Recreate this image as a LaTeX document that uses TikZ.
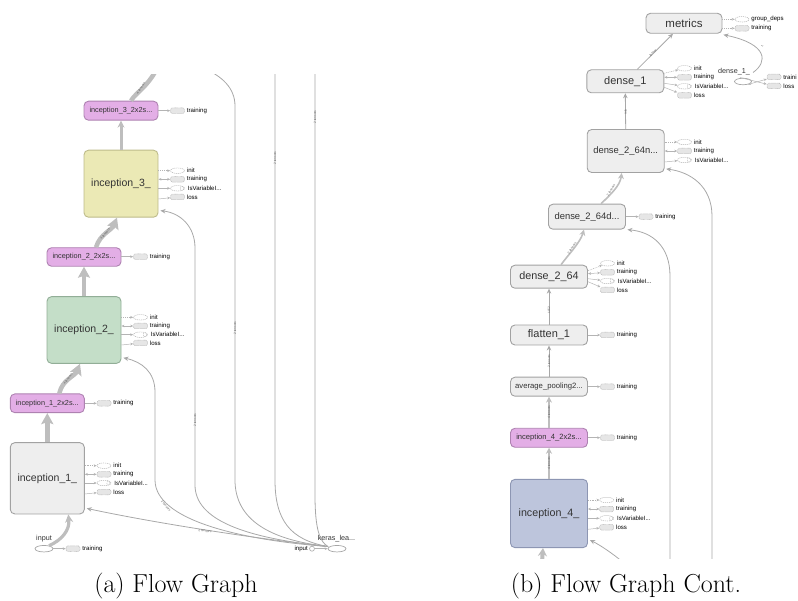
\documentclass[tikz,border=0pt]{standalone}
\usepackage{fontspec}
\newfontfamily\tbf{Liberation Sans}
\usetikzlibrary{arrows.meta,shapes.geometric}

\definecolor{boxfill}{HTML}{EEEEEE}
\definecolor{boxline}{HTML}{A2A2A2}
\definecolor{pinkfill}{HTML}{E3AEE6}
\definecolor{pinkline}{HTML}{AE82B1}
\definecolor{yelfill}{HTML}{EBE9B5}
\definecolor{yelline}{HTML}{BDBB8A}
\definecolor{grnfill}{HTML}{C4DEC8}
\definecolor{grnline}{HTML}{92AE97}
\definecolor{blufill}{HTML}{BDC5DC}
\definecolor{bluline}{HTML}{8D96B3}
\definecolor{txtgray}{HTML}{333333}
\definecolor{edgegray}{HTML}{A8A8A8}
\definecolor{thickgray}{HTML}{BEBEBE}
\definecolor{portline}{HTML}{B4B4B4}
\definecolor{portfill}{HTML}{E6E6E6}

\newcommand\tbbig{\tbf\fontsize{10.5}{12}\selectfont}
\newcommand\tbmid{\tbf\fontsize{9.4}{11}\selectfont}
\newcommand\tbsmall{\tbf\fontsize{7.3}{9}\selectfont}
\newcommand\tbport{\tbf\fontsize{6.1}{7}\selectfont}
\newcommand\tbtiny{\tbf\fontsize{3.2}{4}\selectfont}

% a port shape with its name printed to the right
\newcommand\portnode[5]{%
  \node[#2] (#1) at (#3,#4) {};
  \node[portlabel] (#1-l) at ([xshift=2pt]#1.east) {#5};}

\tikzset{
  opbox/.style={draw=boxline, fill=boxfill, rounded corners=4.5pt, line width=0.9pt,
    text=txtgray, inner sep=0pt, align=center},
  pinkbox/.style={opbox, fill=pinkfill, draw=pinkline},
  yelbox/.style={opbox, fill=yelfill, draw=yelline},
  grnbox/.style={opbox, fill=grnfill, draw=grnline},
  blubox/.style={opbox, fill=blufill, draw=bluline},
  pinit/.style={ellipse, draw=portline, dash pattern=on 1.2pt off 0.8pt,
    minimum width=14pt, minimum height=5.5pt, inner sep=0pt, line width=0.5pt},
  ptrain/.style={rectangle, rounded corners=1.5pt, draw=portline, dash pattern=on 0.6pt off 0.6pt,
    fill=portfill, minimum width=14pt, minimum height=5.5pt, inner sep=0pt, line width=0.5pt},
  pvar/.style={pinit, path picture={\draw[portline, line width=0.4pt]
      ([xshift=-2.6pt]path picture bounding box.east) ellipse (1.6pt and 2.2pt);}},
  portlabel/.style={font=\tbport, text=black, inner sep=0pt, anchor=west},
  parrow/.style={draw=portline, line width=0.5pt, -{Stealth[length=3pt,width=2.6pt]}},
  pdash/.style={parrow, dash pattern=on 1pt off 0.8pt},
  pboth/.style={draw=portline, line width=0.5pt,
    {Stealth[length=3pt,width=2.6pt]}-{Stealth[length=3pt,width=2.6pt]}},
  thinedge/.style={draw=edgegray, line width=0.8pt, -{Stealth[length=5pt,width=4.5pt]}},
  bareline/.style={draw=edgegray, line width=0.8pt},
  midedge/.style={draw=thickgray, line width=1.6pt, -{Stealth[length=6pt,width=6pt]}},
  fatedge/.style={draw=thickgray, line width=4.5pt, -{Stealth[length=11pt,width=12pt,inset=2pt]}},
  elabel/.style={font=\tbtiny, text=black!60, inner sep=0.5pt},
  nodeword/.style={font=\tbf\fontsize{7.2}{8}\selectfont, text=txtgray, inner sep=0pt},
  caption/.style={font=\fontsize{26}{30}\selectfont, anchor=base, inner sep=0pt}
}

\begin{document}
\begin{tikzpicture}[x=1pt,y=-1pt]
\useasboundingbox (0,0) rectangle (798,601);

%% ---------------- left graph ----------------
\begin{scope}
\clip (0,75) rectangle (400,601);

% operation boxes
\node[pinkbox, minimum width=74pt, minimum height=19pt, font=\tbsmall] (p3) at (121,110.7) {inception\_3\_2x2s...};
\node[yelbox, minimum width=74pt, minimum height=67pt, font=\tbbig] (inc3) at (121,183.7) {inception\_3\_};
\node[pinkbox, minimum width=74pt, minimum height=18.5pt, font=\tbsmall] (p2) at (84,257) {inception\_2\_2x2s...};
\node[grnbox, minimum width=74pt, minimum height=66.7pt, font=\tbbig] (inc2) at (84,330) {inception\_2\_};
\node[pinkbox, minimum width=74pt, minimum height=18.7pt, font=\tbsmall] (p1) at (47.3,403.3) {inception\_1\_2x2s...};
\node[opbox, minimum width=74pt, minimum height=71.3pt, font=\tbbig] (inc1) at (47.3,478.3) {inception\_1\_};

% input and keras_learning_phase
\node[ellipse, draw=gray!70, line width=0.7pt, minimum width=18pt, minimum height=6.5pt, inner sep=0pt] (inp) at (44,548.7) {};
\node[nodeword] (inp-l) at (44,539) {input};
\node[ellipse, draw=gray!70, line width=0.7pt, minimum width=18pt, minimum height=6.5pt, inner sep=0pt] (kl) at (337,548.7) {};
\node[nodeword] (kl-l) at (336.5,539) {keras\_lea...};
\node[circle, draw=gray!70, line width=0.6pt, minimum size=5pt, inner sep=0pt] (kin0) at (312,548.7) {};
\node[font=\tbport, text=black, inner sep=0pt, anchor=east] (kin0-l) at (308,548.7) {input};
\draw[parrow] (kin0) -- (kl);
\coordinate (kin) at (328,546.5);

% ports
\portnode{p3t}{ptrain}{177.5}{110.7}{training}
\draw[parrow] (p3.east |- p3t) -- (p3t);

\portnode{i3a}{pinit}{177.5}{170.7}{init}
\portnode{i3b}{ptrain}{177.5}{179.3}{training}
\portnode{i3c}{pvar}{177.5}{188.3}{\,IsVariableI...}
\portnode{i3d}{ptrain}{177.5}{197}{loss}
\draw[pdash] (inc3.east |- i3a) -- (i3a);
\draw[pboth] (inc3.east |- i3b) -- (i3b);
\draw[parrow] (inc3.east |- i3c) -- (i3c);
\draw[parrow] ([yshift=-2pt]inc3.east |- i3d) -- (i3d);

\portnode{p2t}{ptrain}{140.5}{256.7}{training}
\draw[parrow] (p2.east |- p2t) -- (p2t);

\portnode{i2a}{pinit}{140.5}{317.3}{init}
\portnode{i2b}{ptrain}{140.5}{326}{training}
\portnode{i2c}{pvar}{140.5}{334.7}{\,IsVariableI...}
\portnode{i2d}{ptrain}{140.5}{343}{loss}
\draw[pdash] (inc2.east |- i2a) -- (i2a);
\draw[pboth] (inc2.east |- i2b) -- (i2b);
\draw[parrow] (inc2.east |- i2c) -- (i2c);
\draw[parrow] ([yshift=-2pt]inc2.east |- i2d) -- (i2d);

\portnode{p1t}{ptrain}{104}{403.3}{training}
\draw[parrow] (p1.east |- p1t) -- (p1t);

\portnode{i1a}{pinit}{104}{465.7}{init}
\portnode{i1b}{ptrain}{104}{474.3}{training}
\portnode{i1c}{pvar}{104}{483}{\,IsVariableI...}
\portnode{i1d}{ptrain}{104}{492}{loss}
\draw[pdash] (inc1.east |- i1a) -- (i1a);
\draw[pboth] (inc1.east |- i1b) -- (i1b);
\draw[parrow] (inc1.east |- i1c) -- (i1c);
\draw[parrow] ([yshift=-2pt]inc1.east |- i1d) -- (i1d);

\portnode{inpt}{ptrain}{73}{548.7}{training}
\draw[parrow] (inp) -- (inpt);

% main data flow
\draw[draw=thickgray, line width=3.2pt, -{Stealth[length=8pt,width=8pt]}]
  ([shift={(5,-3)}]inp.center) .. controls (62,540) and (70,530) .. ([shift={(21,0)}]inc1.south);
\draw[fatedge] (inc1.north) -- (p1.south);
\draw[fatedge] ([shift={(12,0)}]p1.north) .. controls (62,380) and (75,376) .. ([shift={(-4,0)}]inc2.south);
\node[elabel, rotate=52] (l1) at (68,379) {4 tensors};
\draw[fatedge] (inc2.north) -- (p2.south);
\draw[fatedge] ([shift={(12,0)}]p2.north) .. controls (100,234) and (112,230) .. ([shift={(-4,0)}]inc3.south);
\node[elabel, rotate=50] (l2) at (105,234) {4 tensors};
\draw[draw=thickgray, line width=3pt, -{Stealth[length=7pt,width=7pt]}] (inc3.north) -- (p3.south);
\coordinate (upA) at (160,62);
\draw[draw=thickgray, line width=4.5pt] ([shift={(10,0)}]p3.north) .. controls (136,92) and (150,86) .. (upA);
\node[elabel, rotate=55] (l3) at (141,88) {4 tensors};

% keras_learning_phase fan-out
\draw[thinedge] (kin) .. controls (250,538) and (150,522) .. ([shift={(2,-6)}]inc1.south east);
\node[elabel, rotate=-8] (l4) at (205,531) {2 tensors};
\draw[thinedge] (kin) .. controls (240,540) and (155,520) .. (155,480) -- (155,392)
  .. controls (155,372) and (142,362) .. ([shift={(2,-6)}]inc2.south east);
\node[elabel, rotate=-50] (l5) at (166,506) {2 tensors};
\draw[thinedge] (kin) .. controls (245,538) and (195,520) .. (195,485) -- (195,248)
  .. controls (195,226) and (180,213) .. ([shift={(2,-7)}]inc3.south east);
\node[elabel, rotate=90] (l6) at (195,420) {2 tensors};
\coordinate (upB) at (203,68);
\draw[bareline] (kin) .. controls (270,540) and (235,520) .. (235,480) -- (235,106)
  .. controls (235,88) and (222,76) .. (upB);
\node[elabel, rotate=90] (l7) at (235,328) {2 tensors};
\coordinate (upC) at (275,60);
\draw[bareline] (kin) .. controls (290,540) and (275,520) .. (275,480) -- (upC);
\node[elabel, rotate=90] (l8) at (275,158) {2 tensors};
\coordinate (upD) at (315,60);
\draw[bareline] (kin) .. controls (320,542) and (315,530) .. (315,495) -- (upD);
\node[elabel, rotate=90] (l9) at (315,117) {2 tensors};
\end{scope}

%% ---------------- right graph ----------------
\begin{scope}
\clip (480,0) rectangle (798,558);

\node[opbox, minimum width=76pt, minimum height=20pt, font=\tbf\fontsize{11.5}{13}\selectfont] (met) at (684,23.3) {metrics};
\node[opbox, minimum width=77pt, minimum height=23pt, font=\tbf\fontsize{11}{13}\selectfont] (d1) at (625.3,81.3) {dense\_1};
\node[opbox, minimum width=77pt, minimum height=43pt, font=\tbmid] (d2n) at (625.7,151) {dense\_2\_64n...};
\node[opbox, minimum width=77pt, minimum height=25pt, font=\tbmid] (d2d) at (587,216.7) {dense\_2\_64d...};
\node[opbox, minimum width=77pt, minimum height=23pt, font=\tbf\fontsize{10.8}{13}\selectfont] (d264) at (549,276.7) {dense\_2\_64};
\node[opbox, minimum width=77pt, minimum height=20pt, font=\tbf\fontsize{11}{13}\selectfont] (fl) at (549,335) {flatten\_1};
\node[opbox, minimum width=77pt, minimum height=19pt, font=\tbf\fontsize{7.7}{9}\selectfont] (avg) at (549,386.7) {average\_pooling2...};
\node[pinkbox, minimum width=77pt, minimum height=19pt, font=\tbf\fontsize{7.6}{9}\selectfont] (p4) at (549,437.8) {inception\_4\_2x2s...};
\node[blubox, minimum width=77pt, minimum height=68.3pt, font=\tbf\fontsize{10.7}{12}\selectfont] (inc4) at (549,513.5) {inception\_4\_};

% dense_1 bias-style side node
\node[ellipse, draw=gray!70, line width=0.7pt, minimum width=17pt, minimum height=6.5pt, inner sep=0pt] (d1u) at (743,81.5) {};
\node[nodeword, anchor=east] (d1u-l) at (750,72) {dense\_1\_};

% ports of metrics
\portnode{mga}{pinit}{742}{19.3}{group\_deps}
\portnode{mgb}{ptrain}{742}{28.3}{training}
\draw[pdash] (met.east |- mga) -- (mga);
\draw[pdash] (met.east |- mgb) -- (mgb);

% ports of dense_1
\portnode{d1a}{pinit}{684.5}{68.3}{init}
\portnode{d1b}{ptrain}{684.5}{77.3}{training}
\portnode{d1c}{pvar}{684.5}{86.3}{\,IsVariableI...}
\portnode{d1d}{ptrain}{684.5}{95.3}{loss}
\draw[pdash] ([shift={(0,-8)}]d1.east) -- (d1a);
\draw[pboth] ([shift={(0,-4)}]d1.east) -- (d1b);
\draw[parrow] ([shift={(0,2)}]d1.east) -- (d1c);
\draw[parrow] ([shift={(0,6)}]d1.east) -- (d1d);

% ports of dense_1_ (the page edge leaves only the start of the first name)
\portnode{dua}{ptrain}{774}{77}{traini}
\portnode{dub}{ptrain}{774}{86}{loss}
\draw[pboth] ([shift={(5,3)}]d1u.center) -- (dua);
\draw[parrow] ([shift={(-3,-4)}]d1u.center) -- (dub);

% ports of dense_2_64n
\portnode{dna}{pinit}{684.5}{142}{init}
\portnode{dnb}{ptrain}{684.5}{151}{training}
\portnode{dnc}{pvar}{684.5}{160}{\,IsVariableI...}
\draw[pdash] (d2n.east |- dna) -- (dna);
\draw[pboth] (d2n.east |- dnb) -- (dnb);
\draw[parrow] ([shift={(0,2)}]d2n.east |- dnc) -- (dnc);

% ports of dense_2_64d
\portnode{dda}{ptrain}{646}{216.7}{training}
\draw[parrow] (d2d.east |- dda) -- (dda);

% ports of dense_2_64
\portnode{dsa}{pinit}{607.5}{263.3}{init}
\portnode{dsb}{ptrain}{607.5}{272.3}{training}
\portnode{dsc}{pvar}{607.5}{281}{\,IsVariableI...}
\portnode{dsd}{ptrain}{607.5}{290}{loss}
\draw[pdash] ([shift={(0,-6)}]d264.east) -- (dsa);
\draw[pboth] ([shift={(0,-3)}]d264.east) -- (dsb);
\draw[parrow] ([shift={(0,2)}]d264.east) -- (dsc);
\draw[parrow] ([shift={(0,5)}]d264.east) -- (dsd);

\portnode{fla}{ptrain}{607.5}{335}{training}
\draw[parrow] (fl.east |- fla) -- (fla);
\portnode{ava}{ptrain}{607.5}{386.7}{training}
\draw[parrow] (avg.east |- ava) -- (ava);
\portnode{p4a}{ptrain}{607.5}{437.7}{training}
\draw[parrow] (p4.east |- p4a) -- (p4a);

% ports of inception_4_
\portnode{i4a}{pinit}{606.7}{500}{init}
\portnode{i4b}{ptrain}{606.7}{509}{training}
\portnode{i4c}{pvar}{606.7}{518.3}{\,IsVariableI...}
\portnode{i4d}{ptrain}{606.7}{527.3}{loss}
\draw[pdash] (inc4.east |- i4a) -- (i4a);
\draw[pboth] (inc4.east |- i4b) -- (i4b);
\draw[parrow] (inc4.east |- i4c) -- (i4c);
\draw[parrow] ([yshift=-2pt]inc4.east |- i4d) -- (i4d);

% data flow
\draw[thinedge] ([shift={(12,0)}]d1.north) -- ([shift={(-11,0)}]met.south);
\node[elabel, rotate=45] (r1) at (653,53) {tensor};
\draw[thinedge] ([shift={(10,-9)}]d1u.center) .. controls (768,62) and (768,44) .. ([shift={(1,1)}]met.south east);
\node[elabel, rotate=60] (r2) at (762,46) {1};
\draw[thinedge] (d2n.north) -- (d1.south);
\node[elabel, rotate=90] (r3) at (625.5,112) {relu};
\draw[midedge] ([shift={(14,0)}]d2d.north) .. controls (610,195) and (620,186) .. ([shift={(-4,0)}]d2n.south);
\node[elabel, rotate=58] (r4) at (611,190) {2 tensors};
\draw[midedge] ([shift={(12,0)}]d264.north) .. controls (568,255) and (580,243) .. ([shift={(-3,0)}]d2d.south);
\node[elabel, rotate=55] (r5) at (572,248) {2 tensors};
\draw[thinedge] (fl.north) -- (d264.south);
\node[elabel, rotate=90] (r6) at (549,310) {1152};
\draw[thinedge] (avg.north) -- (fl.south);
\node[elabel, rotate=90] (r7) at (549,361) {2 tensors};
\draw[midedge] (p4.north) -- (avg.south);
\node[elabel, rotate=90] (r8) at (549,412) {4 tensors};
\draw[midedge] (inc4.north) -- (p4.south);
\node[elabel, rotate=90] (r9) at (549,463) {4 tensors};

\coordinate (dnA) at (542,562);
\draw[draw=thickgray, line width=4pt, -{Stealth[length=8pt,width=9pt]}] (dnA) -- ([shift={(-6,0)}]inc4.south);
\coordinate (dnB) at (624,563);
\draw[thinedge] (dnB) .. controls (612,553) and (600,545) .. ([shift={(2,-8)}]inc4.south east);
\coordinate (dnC) at (670,562);
\draw[thinedge] (dnC) -- (670,276) .. controls (670,246) and (652,232) .. ([shift={(1.5,0)}]d2d.south east);
\coordinate (dnD) at (712,562);
\draw[thinedge] (dnD) -- (712,216) .. controls (712,186) and (690,172) .. ([shift={(1.5,-4)}]d2n.south east);
\end{scope}

%% ---------------- captions ----------------
\node[caption] (capa) at (176,592) {(a) Flow Graph};
\node[caption] (capb) at (626,592) {(b) Flow Graph Cont.};
\end{tikzpicture}
\end{document}
